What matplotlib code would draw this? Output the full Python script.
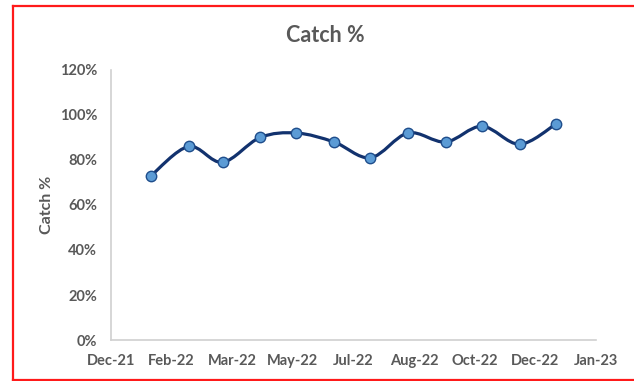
import datetime as dt

import matplotlib
matplotlib.use("Agg")
import matplotlib.pyplot as plt
import matplotlib.dates as mdates
from matplotlib.lines import Line2D
from matplotlib.path import Path
from matplotlib.patches import PathPatch
from matplotlib.ticker import PercentFormatter
import numpy as np

# monthly catch rate for 2022
months = [dt.date(2022, m, 20) for m in range(1, 13)]
catch_pct = [0.73, 0.86, 0.79, 0.90, 0.92, 0.88, 0.81, 0.92, 0.88, 0.95, 0.87, 0.96]

axis_start = dt.date(2021, 12, 18)
axis_step_days = 50
axis_steps = 8

TEXT = "#595959"
AXIS = "#D0D0D0"
LINE = "#12326E"
MARKER = "#5B9BD5"

plt.rcParams["font.family"] = ["Lato", "DejaVu Sans"]


def smooth_path(x, y):
    # Excel-style smoothed line: cubic bezier segments with Catmull-Rom tangents
    pts = np.column_stack([x, y])
    ext = np.vstack([pts[0], pts, pts[-1]])
    verts = [pts[0]]
    codes = [Path.MOVETO]
    for i in range(len(pts) - 1):
        p0, p1, p2, p3 = ext[i], ext[i + 1], ext[i + 2], ext[i + 3]
        c1 = p1 + (p2 - p0) / 6.0
        c2 = p2 - (p3 - p1) / 6.0
        verts += [c1, c2, p2]
        codes += [Path.CURVE4] * 3
    return Path(verts, codes)


fig = plt.figure(figsize=(6.34, 3.81), dpi=100)
ax = fig.add_axes([0.175, 0.1076, 0.765, 0.7087])

xs = mdates.date2num(months)
ax.add_patch(PathPatch(smooth_path(xs, catch_pct), facecolor="none",
                       edgecolor=LINE, lw=2.3, capstyle="round", zorder=2))
ax.plot(xs, catch_pct, ls="none", marker="o", ms=7.5,
        mfc=MARKER, mec="#1F4E8C", mew=1.0, zorder=3)

ticks = [axis_start + dt.timedelta(days=axis_step_days * k) for k in range(axis_steps + 1)]
ax.set_xlim(mdates.date2num(ticks[0]), mdates.date2num(ticks[-1]))
ax.set_xticks(mdates.date2num(ticks))
ax.xaxis.set_major_formatter(mdates.DateFormatter("%b-%y"))

ax.set_ylim(0, 1.2)
ax.set_yticks(np.arange(0, 1.21, 0.2))
ax.yaxis.set_major_formatter(PercentFormatter(1.0, decimals=0))

for side in ["top", "right"]:
    ax.spines[side].set_visible(False)
for side in ["left", "bottom"]:
    ax.spines[side].set_color(AXIS)
    ax.spines[side].set_linewidth(1.2)

ax.tick_params(axis="both", length=0, colors=TEXT, labelsize=10.5)
ax.tick_params(axis="x", pad=10)
ax.tick_params(axis="y", pad=10)
for lab in ax.get_xticklabels() + ax.get_yticklabels():
    lab.set_fontweight("bold")

ax.set_ylabel("Catch %", color=TEXT, fontsize=11.5, fontweight="bold")
ax.yaxis.set_label_coords(-0.118, 0.5)

fig.text(0.513, 1 - 36 / 381, "Catch %", ha="center", va="center",
         color=TEXT, fontsize=15.5, fontweight="bold")

# red frame around the chart (open on the right)
W, H = 634, 381
frame = dict(color="#FF1A1A", lw=1.6, transform=fig.transFigure, solid_capstyle="projecting")
fig.add_artist(Line2D([12.5 / W, 12.5 / W], [1 - 6 / H, 1 - 380 / H], **frame))
fig.add_artist(Line2D([12.5 / W, 1.0], [1 - 6 / H, 1 - 6 / H], **frame))
fig.add_artist(Line2D([12.5 / W, 1.0], [1 - 380 / H, 1 - 380 / H], **frame))

fig.savefig("out.png", dpi=100)
